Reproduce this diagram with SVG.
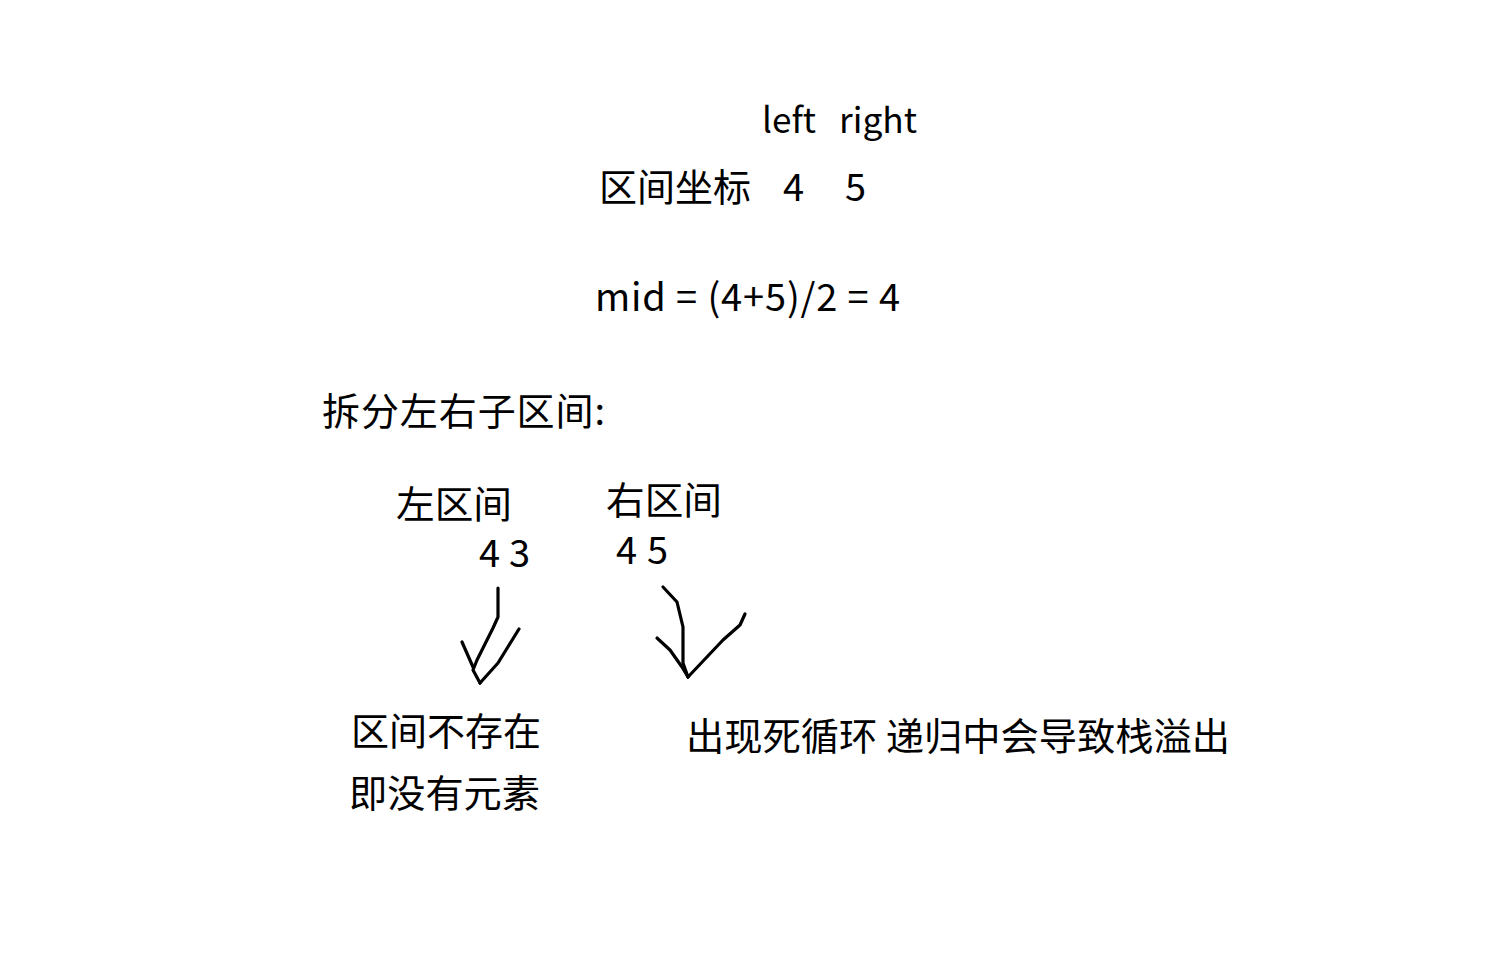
<svg xmlns="http://www.w3.org/2000/svg" width="1496" height="965" viewBox="0 0 1496 965">
<style>
text{font-family:"Noto Sans CJK SC","Noto Sans",sans-serif;font-size:38px;fill:#000}
.s{fill:none;stroke:#000;stroke-width:3.2;stroke-linecap:round;stroke-linejoin:round}
</style>
<rect width="1496" height="965" fill="#fff"/>
<g id="header">
<text x="762" y="133" style="font-size:35px" textLength="54" lengthAdjust="spacingAndGlyphs">left</text>
<text x="839" y="133" style="font-size:35px" textLength="78" lengthAdjust="spacingAndGlyphs">right</text>
<text x="599" y="201" textLength="152" lengthAdjust="spacingAndGlyphs">区间坐标</text>
<text x="783" y="201">4</text>
<text x="845" y="201">5</text>
<text x="595" y="311" textLength="305" lengthAdjust="spacing">mid = (4+5)/2 = 4</text>
</g>
<g id="split"><text x="322" y="425" textLength="283" lengthAdjust="spacing">拆分左右子区间:</text></g>
<g id="left">
<text x="396" y="518" textLength="116" lengthAdjust="spacingAndGlyphs">左区间</text>
<text x="479" y="567" textLength="51" lengthAdjust="spacing">4 3</text>
</g>
<g id="right">
<text x="606" y="514" textLength="116" lengthAdjust="spacingAndGlyphs">右区间</text>
<text x="616" y="564" textLength="52" lengthAdjust="spacing">4 5</text>
</g>
<g id="leftResult">
<text x="351" y="745" textLength="190" lengthAdjust="spacingAndGlyphs">区间不存在</text>
<text x="349" y="807" textLength="191" lengthAdjust="spacingAndGlyphs">即没有元素</text>
</g>
<g id="rightResult"><text x="686" y="750" textLength="544" lengthAdjust="spacingAndGlyphs">出现死循环 递归中会导致栈溢出</text></g>
<g id="connectors">
<path class="s" d="M498,588 L498,617 L493,628 L477,660 L473,670 L480,683"/>
<path class="s" d="M462,642 L473,667"/>
<path class="s" d="M480,683 L498,663 L519,629"/>
<path class="s" d="M663,587 L677,602 L683,627 L683,663 L688,677"/>
<path class="s" d="M657,638 L670,650 L682,667 L688,677"/>
<path class="s" d="M688,677 L723,640 L740,625 L745,614"/>
</g>
</svg>
